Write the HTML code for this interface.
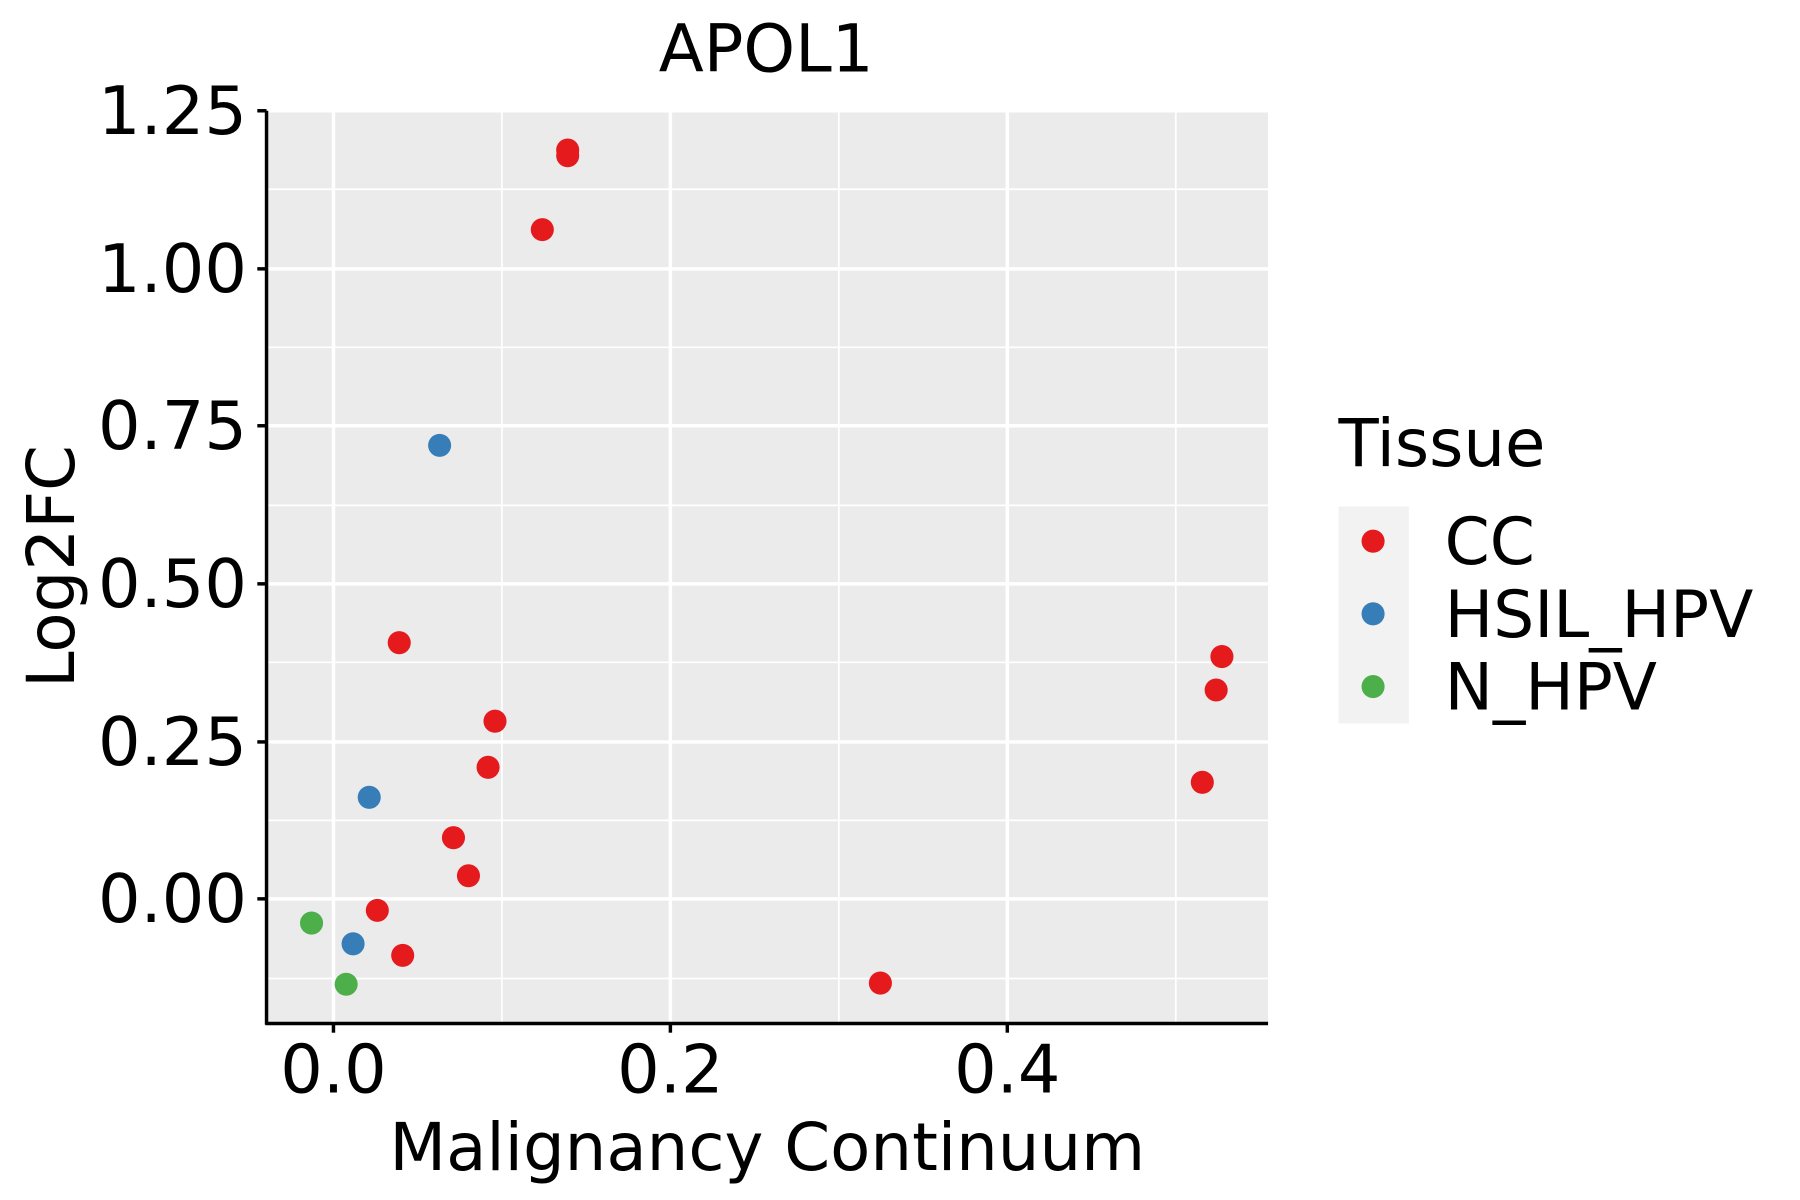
<!DOCTYPE html>
<html><head><style>html,body{margin:0;padding:0;background:#fff}svg{display:block}</style></head>
<body>
<svg width="1800" height="1200" viewBox="0 0 1560 1040" preserveAspectRatio="none" xmlns="http://www.w3.org/2000/svg" font-family="DejaVu Sans, Liberation Sans, sans-serif">
<rect width="1560" height="1040" fill="#fff"/>
<rect x="231" y="96" width="868" height="791" fill="#ebebeb"/>
<g stroke="#fff" stroke-width="1.5">
<line x1="231" x2="1099" y1="164" y2="164"/><line x1="231" x2="1099" y1="301" y2="301"/><line x1="231" x2="1099" y1="438" y2="438"/><line x1="231" x2="1099" y1="574" y2="574"/><line x1="231" x2="1099" y1="711" y2="711"/><line x1="231" x2="1099" y1="848" y2="848"/>
<line y1="96" y2="887" x1="435" x2="435"/><line y1="96" y2="887" x1="727" x2="727"/><line y1="96" y2="887" x1="1019" x2="1019"/>
</g>
<g stroke="#fff" stroke-width="3">
<line x1="231" x2="1099" y1="96" y2="96"/><line x1="231" x2="1099" y1="233" y2="233"/><line x1="231" x2="1099" y1="369" y2="369"/><line x1="231" x2="1099" y1="506" y2="506"/><line x1="231" x2="1099" y1="643" y2="643"/><line x1="231" x2="1099" y1="779" y2="779"/>
<line y1="96" y2="887" x1="289" x2="289"/><line y1="96" y2="887" x1="581" x2="581"/><line y1="96" y2="887" x1="873" x2="873"/>
</g>
<g stroke="#000" stroke-width="3">
<line x1="231" x2="231" y1="96" y2="888"/><line x1="230" x2="1099" y1="887" y2="887"/>
<line x1="223" x2="231" y1="96" y2="96"/><line x1="223" x2="231" y1="233" y2="233"/><line x1="223" x2="231" y1="369" y2="369"/><line x1="223" x2="231" y1="506" y2="506"/><line x1="223" x2="231" y1="643" y2="643"/><line x1="223" x2="231" y1="779" y2="779"/>
<line y1="887" y2="895" x1="289" x2="289"/><line y1="887" y2="895" x1="581" x2="581"/><line y1="887" y2="895" x1="873" x2="873"/>
</g>
<g font-size="58" fill="#000" text-anchor="end">
<text x="214" y="116">1.25</text><text x="214" y="253">1.00</text><text x="214" y="389">0.75</text><text x="214" y="526">0.50</text><text x="214" y="663">0.25</text><text x="214" y="799">0.00</text>
</g>
<g font-size="58" fill="#000" text-anchor="middle">
<text x="289" y="947">0.0</text><text x="581" y="947">0.2</text><text x="873" y="947">0.4</text>
<text x="665" y="1014" font-size="57">Malignancy Continuum</text>
<text x="664" y="62" font-size="57">APOL1</text>
<text transform="translate(64,491) rotate(-90)" font-size="57">Log2FC</text>
</g>
<g fill="#e41a1c">
<circle cx="492" cy="130" r="10"/><circle cx="492" cy="135" r="10"/><circle cx="470" cy="199" r="10"/><circle cx="346" cy="557" r="10"/><circle cx="429" cy="625" r="10"/><circle cx="423" cy="665" r="10"/><circle cx="393" cy="726" r="10"/><circle cx="406" cy="759" r="10"/><circle cx="327" cy="789" r="10"/><circle cx="349" cy="828" r="10"/><circle cx="763" cy="852" r="10"/><circle cx="1059" cy="569" r="10"/><circle cx="1054" cy="598" r="10"/><circle cx="1042" cy="678" r="10"/>
</g>
<g fill="#377eb8"><circle cx="381" cy="386" r="10"/><circle cx="320" cy="691" r="10"/><circle cx="306" cy="818" r="10"/></g>
<g fill="#4daf4a"><circle cx="270" cy="800" r="10"/><circle cx="300" cy="853" r="10"/></g>
<text x="1160" y="404" font-size="57">Tissue</text>
<rect x="1160" y="439" width="61" height="188" fill="#f2f2f2"/>
<circle cx="1190" cy="469" r="10" fill="#e41a1c"/><circle cx="1190" cy="532" r="10" fill="#377eb8"/><circle cx="1190" cy="595" r="10" fill="#4daf4a"/>
<g font-size="56"><text x="1252" y="489">CC</text><text x="1252" y="552">HSIL_HPV</text><text x="1252" y="615">N_HPV</text></g>
</svg>
</body></html>
